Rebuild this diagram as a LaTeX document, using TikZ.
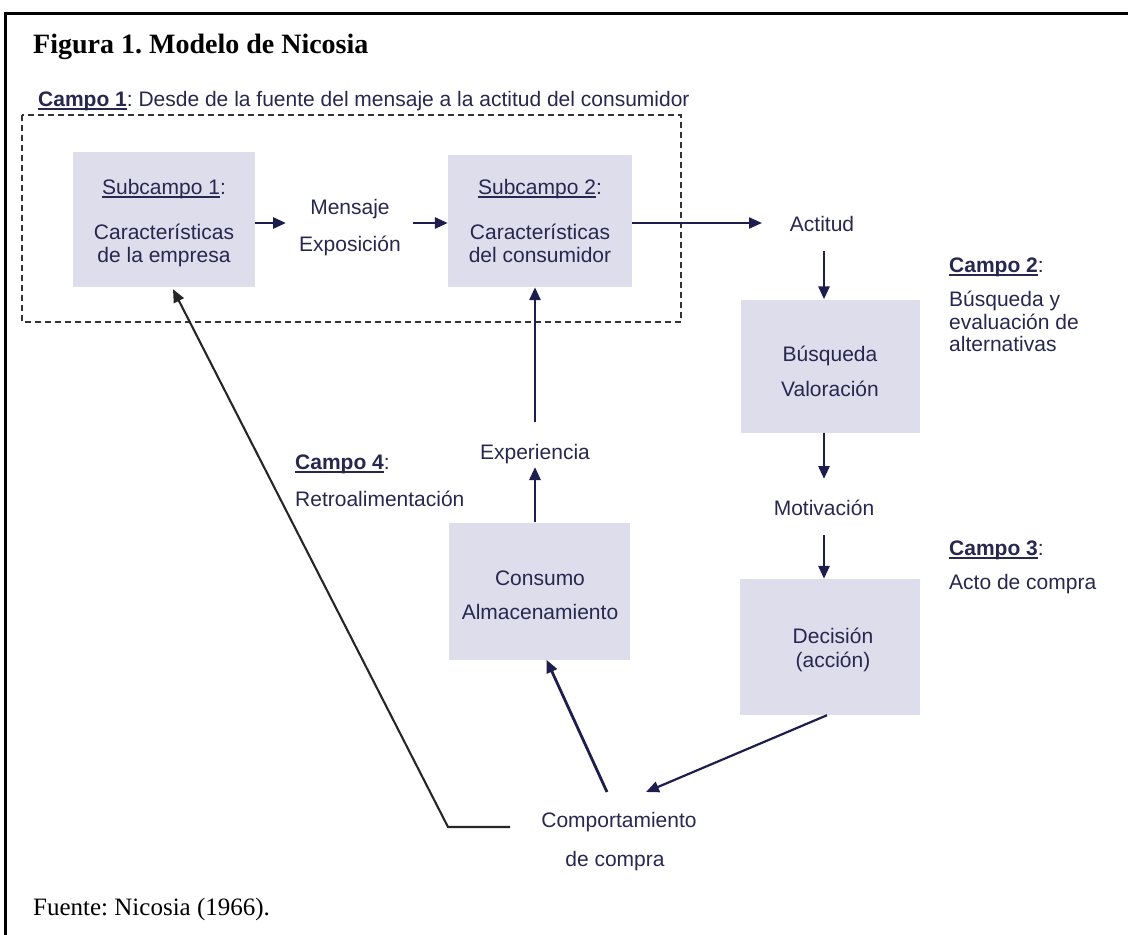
\documentclass[tikz,border=0pt]{standalone}
\usepackage{fontspec}
\setmainfont{Liberation Serif}
\setsansfont{Liberation Sans}
\usetikzlibrary{arrows.meta,calc}

\definecolor{ink}{HTML}{27274F}
\definecolor{boxfill}{HTML}{DDDDEC}
\definecolor{lineink}{HTML}{1E1E4E}

% thick underline for field names
\newcommand{\fielduline}[1]{\setbox0\hbox{#1}\rlap{\vrule width\wd0 height -2pt depth 3.8pt}\box0}
\newcommand{\campo}[1]{\fielduline{\textbf{#1}}}

\begin{document}
\frenchspacing
\begin{tikzpicture}[x=1pt,y=-1pt,
  lbl/.style={font=\sffamily\fontsize{21}{24}\selectfont, text=ink, inner sep=0pt, anchor=base},
  lblw/.style={lbl, anchor=base west},
  fieldbox/.style={fill=boxfill, draw=none, inner sep=0pt},
  arr/.style={draw=lineink, line width=2.8pt, -{Triangle[length=13pt,width=11pt]}},
  thinarr/.style={arr, line width=2.2pt},
  fback/.style={draw=black!85, line width=2.1pt, -{Triangle[length=13pt,width=11pt]}},
  frame/.style={draw=black, line width=3pt},
  campoframe/.style={draw=black!80, line width=1.8pt, dash pattern=on 6pt off 4pt}
]
\useasboundingbox (0,0) rectangle (1128,935);

% page frame (top and left edges)
\draw[frame] (4,13) -- (1128,13);
\draw[frame] (5.5,11.5) -- (5.5,935);

% heading and source
\node[font=\rmfamily\bfseries\fontsize{28}{32}\selectfont, anchor=base west, inner sep=0pt] (title) at (33,53) {Figura 1. Modelo de Nicosia};
\node[font=\rmfamily\fontsize{25}{28}\selectfont, anchor=base west, inner sep=0pt] (source) at (33,915) {Fuente: Nicosia (1966).};

% field 1
\node[lblw] (campo1) at (38,106) {\campo{Campo 1}: Desde de la fuente del mensaje a la actitud del consumidor};
\draw[campoframe] (22,115) rectangle (681,322);

% boxes
\node[fieldbox, minimum width=182pt, minimum height=135pt] (b1) at (164,219.5) {};
\node[fieldbox, minimum width=184pt, minimum height=132pt] (b2) at (540,221) {};
\node[fieldbox, minimum width=179pt, minimum height=133pt] (b3) at (830,366) {};
\node[fieldbox, minimum width=180pt, minimum height=136pt] (b4) at (830,647) {};
\node[fieldbox, minimum width=181pt, minimum height=137pt] (b5) at (539.5,591) {};

% box texts
\node[lbl] (b1a) at (164,194) {\fielduline{Subcampo 1}:};
\node[lbl] (b1b) at (164,239) {Características};
\node[lbl] (b1c) at (164,262) {de la empresa};

\node[lbl] (b2a) at (540,194) {\fielduline{Subcampo 2}:};
\node[lbl] (b2b) at (540,239) {Características};
\node[lbl] (b2c) at (540,262) {del consumidor};

\node[lbl] (b3a) at (830,361) {Búsqueda};
\node[lbl] (b3b) at (830,396) {Valoración};

\node[lbl] (b4a) at (833,643) {Decisión};
\node[lbl] (b4b) at (833,667) {(acción)};

\node[lbl] (b5a) at (540,585) {Consumo};
\node[lbl] (b5b) at (540,619) {Almacenamiento};

% free labels
\node[lbl] (msg) at (350,214) {Mensaje};
\node[lbl] (expo) at (350,251) {Exposición};
\node[lbl] (actitud) at (822,231) {Actitud};
\node[lbl] (motiv) at (824,515) {Motivación};
\node[lbl] (exper) at (535,459) {Experiencia};
\node[lbl] (comp) at (619,827) {Comportamiento};
\node[lbl] (compb) at (615,866) {de compra};

% other fields
\node[lblw] (campo2) at (949,272) {\campo{Campo 2}:};
\node[lblw] (campo2a) at (949,306) {Búsqueda y};
\node[lblw] (campo2b) at (949,329) {evaluación de};
\node[lblw] (campo2c) at (949,351) {alternativas};

\node[lblw] (campo3) at (949,555) {\campo{Campo 3}:};
\node[lblw] (campo3a) at (949,589) {Acto de compra};

\node[lblw] (campo4) at (295,469) {\campo{Campo 4}:};
\node[lblw] (campo4a) at (295,506) {Retroalimentación};

% connector end points
\coordinate (pMsgIn)   at (286,223);
\coordinate (pMsgOut)  at (413,223);
\coordinate (pAct)     at (762,223);
\coordinate (pActOut)  at (824,251);
\coordinate (pMotIn)   at (824,479);
\coordinate (pMotOut)  at (824,535);
\coordinate (pCompIn)  at (646,792);
\coordinate (pCompOut) at (607,792);
\coordinate (pExpIn)   at (535,467);
\coordinate (pExpOut)  at (535,422);
\coordinate (pFbStart) at (510,827);
\coordinate (pFbBend)  at (448,827);

% flow
\draw[arr] ([yshift=-3.5pt]b1.east) -- (pMsgIn);
\draw[arr] (pMsgOut) -- (pMsgOut -| b2.west);
\draw[thinarr] (b2.east |- pAct) -- (pAct);
\draw[arr] (pActOut) -- (pActOut |- b3.north);
\draw[arr] (b3.south -| pMotIn) -- (pMotIn);
\draw[arr] (pMotOut) -- (pMotOut |- b4.north);
\draw[thinarr] ([xshift=-3pt]b4.south) -- (pCompIn);
\draw[arr] (pCompOut) -- ([xshift=7pt]b5.south);
\draw[arr] (b5.north -| pExpIn) -- (pExpIn);
\draw[arr] (pExpOut) -- (pExpOut |- b2.south);

% feedback
\draw[fback] (pFbStart) -- (pFbBend) -- ([xshift=9pt,yshift=-2pt]b1.south);
\end{tikzpicture}
\end{document}
